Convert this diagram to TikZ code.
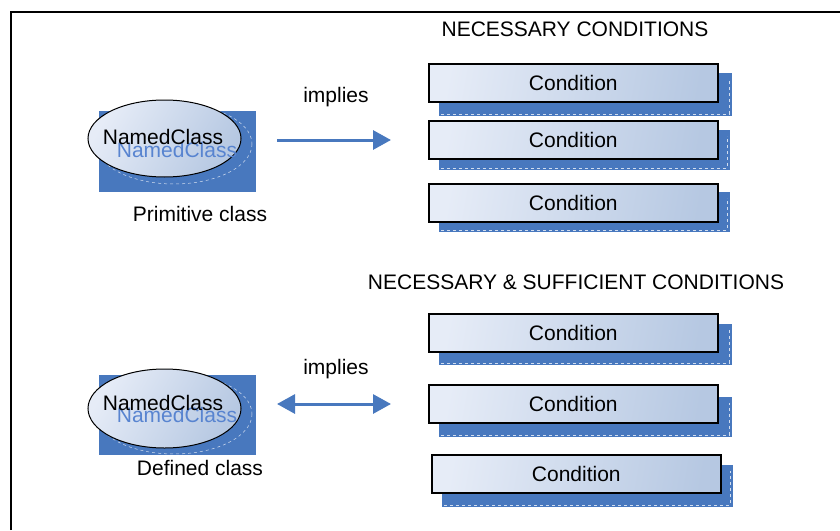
\documentclass[tikz,border=0pt]{standalone}
\usepackage{fontspec}
\setmainfont{Liberation Sans}
\usetikzlibrary{arrows.meta}
\definecolor{shblue}{RGB}{72,120,190}
\definecolor{txblue}{RGB}{88,132,208}
\definecolor{lightfill}{RGB}{230,236,247}
\definecolor{darkfill}{RGB}{182,200,226}
\tikzset{
  x=1pt, y=-1pt,
  lbl/.style={font=\fontsize{21}{21}\selectfont, inner sep=0pt},
  condbox/.style={draw=black, line width=1.6pt, minimum width=289pt, minimum height=38pt,
    left color=lightfill, right color=darkfill, shading angle=80, inner sep=0pt, font=\fontsize{21}{21}\selectfont},
  classell/.style={draw=black, line width=1pt, left color=lightfill, right color=darkfill, shading angle=60},
  conn/.style={draw=shblue, line width=3pt},
}
\begin{document}
\begin{tikzpicture}
\useasboundingbox (0,0) rectangle (840,530);
% frame
\draw[line width=1.6pt] (11,530) -- (11,12) -- (840,12);

% headings
\node[lbl] (hnec) at (575,29) {NECESSARY CONDITIONS};
\node[lbl] (hns) at (576,282) {NECESSARY \& SUFFICIENT CONDITIONS};

% ---- primitive class ----
\fill[shblue] (99,111) rectangle (256,192);
\draw[white!75!shblue, line width=0.5pt, dashed] (174,144) ellipse (78 and 40);
\draw[classell] (164.5,138.5) ellipse (76.5 and 38.5);
\node[lbl, text=txblue] (pblue) at (177,150) {NamedClass};
\node[lbl] (pclass) at (163,137) {NamedClass};
\node[lbl] (plabel) at (200,214) {Primitive class};

% ---- defined class ----
\fill[shblue] (99,375) rectangle (256,455);
\draw[white!75!shblue, line width=0.5pt, dashed] (174,414) ellipse (78 and 40);
\draw[classell] (164.5,408.5) ellipse (76.5 and 39.5);
\node[lbl, text=txblue] (dblue) at (177,415) {NamedClass};
\node[lbl] (dclass) at (163,403) {NamedClass};
\node[lbl] (dlabel) at (200,468) {Defined class};

% ---- arrows ----
\node[lbl] (imp1) at (336,97) {implies};
\coordinate (a1s) at (277,140);
\coordinate (a1e) at (391,140);
\draw[conn, -{Triangle[length=18pt,width=19pt]}] (a1s) -- (a1e);

\node[lbl] (imp2) at (336,369) {implies};
\coordinate (a2s) at (277,404);
\coordinate (a2e) at (391,404);
\draw[conn, {Triangle[length=18pt,width=19pt]}-{Triangle[length=18pt,width=19pt]}] (a2s) -- (a2e);

% ---- condition boxes ----
\foreach \n/\bx/\by/\sx/\sy/\sw/\sh in {
  c1/428/63/439/73/293/43,
  c2/428/120/439/130/291/40,
  c3/428/183/439/192/291/40,
  c4/428/313/439/324/293/41,
  c5/428/384/439/397/293/40,
  c6/431/454/442/465/291/42}{
  \fill[shblue] (\sx,\sy) rectangle ++(\sw,\sh);
  \draw[white!75!shblue, line width=0.5pt, dashed] (\sx+2,\sy+\sh-2) -- ++(\sw-5,0) -- ++(0,-\sh+8);
  \node[condbox, anchor=north west] (\n) at (\bx,\by) {Condition};
}
\end{tikzpicture}
\end{document}
